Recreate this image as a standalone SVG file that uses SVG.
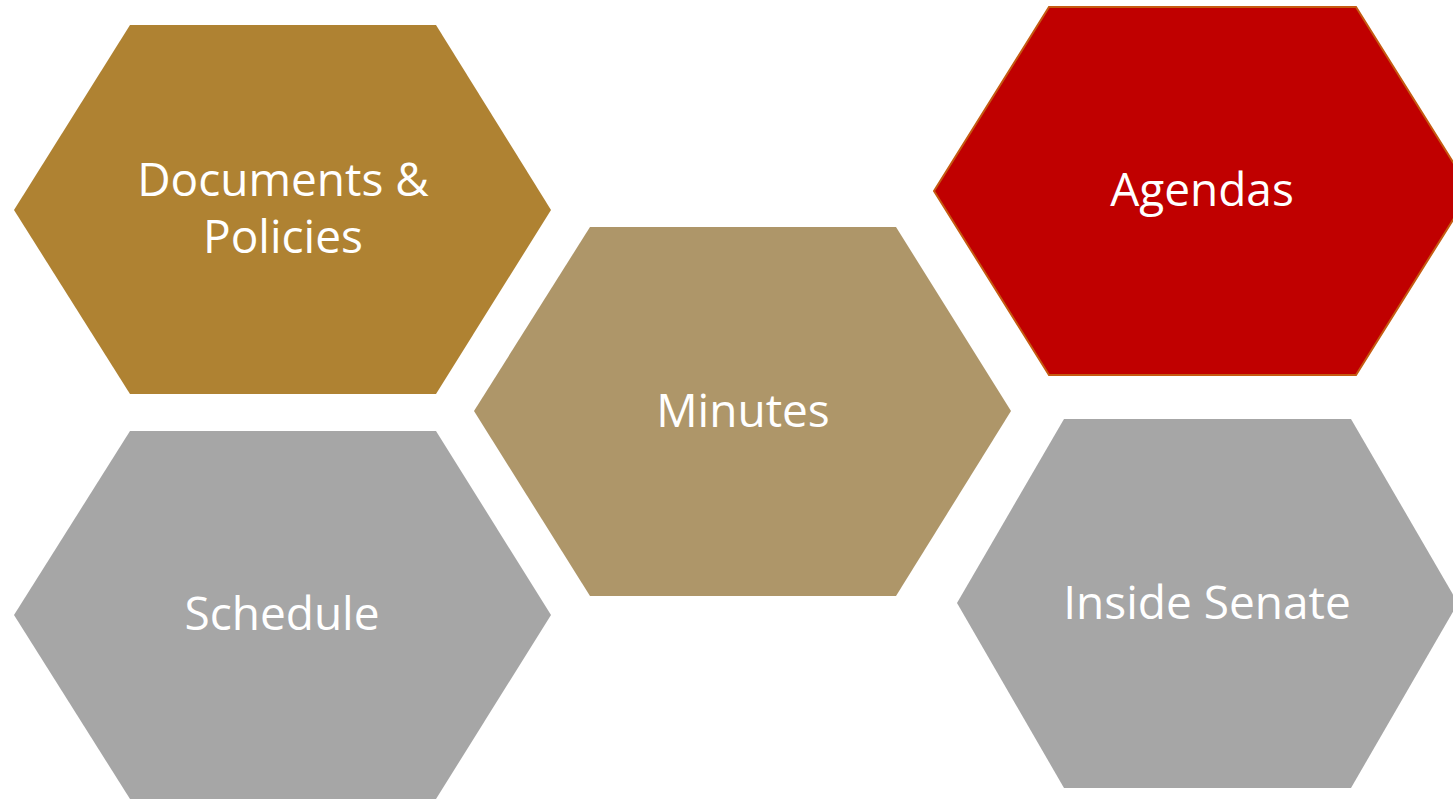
<svg xmlns="http://www.w3.org/2000/svg" width="1453" height="799" viewBox="0 0 1453 799">
<style>
.lbl{font-family:"Open Sans","Liberation Sans",sans-serif;font-size:46px;fill:#ffffff;text-anchor:middle}
</style>
<rect width="1453" height="799" fill="#ffffff"/>
<g id="documents">
<polygon points="130,25 436,25 551,210 436,394 130,394 14,210" fill="#AF8232"/>
<text class="lbl" x="283" y="196">Documents &amp;</text>
<text class="lbl" x="283" y="253">Policies</text>
</g>
<g id="schedule">
<polygon points="130,431 436,431 551,615 436,799 130,799 14,615" fill="#A6A6A6"/>
<text class="lbl" x="282" y="630">Schedule</text>
</g>
<g id="minutes">
<polygon points="590,227 896,227 1011,411 896,596 590,596 474,411" fill="#AE9669"/>
<text class="lbl" x="743" y="427">Minutes</text>
</g>
<g id="agendas">
<polygon points="1049,7 1356,7 1471,191 1356,375 1049,375 934,191" fill="#C00000" stroke="#C55A11" stroke-width="2"/>
<text class="lbl" x="1202" y="206">Agendas</text>
</g>
<g id="inside-senate">
<polygon points="1064,419 1351,419 1458,603 1351,788 1064,788 957,603" fill="#A6A6A6"/>
<text class="lbl" x="1207" y="619">Inside Senate</text>
</g>
<g id="connectors"></g>
</svg>
